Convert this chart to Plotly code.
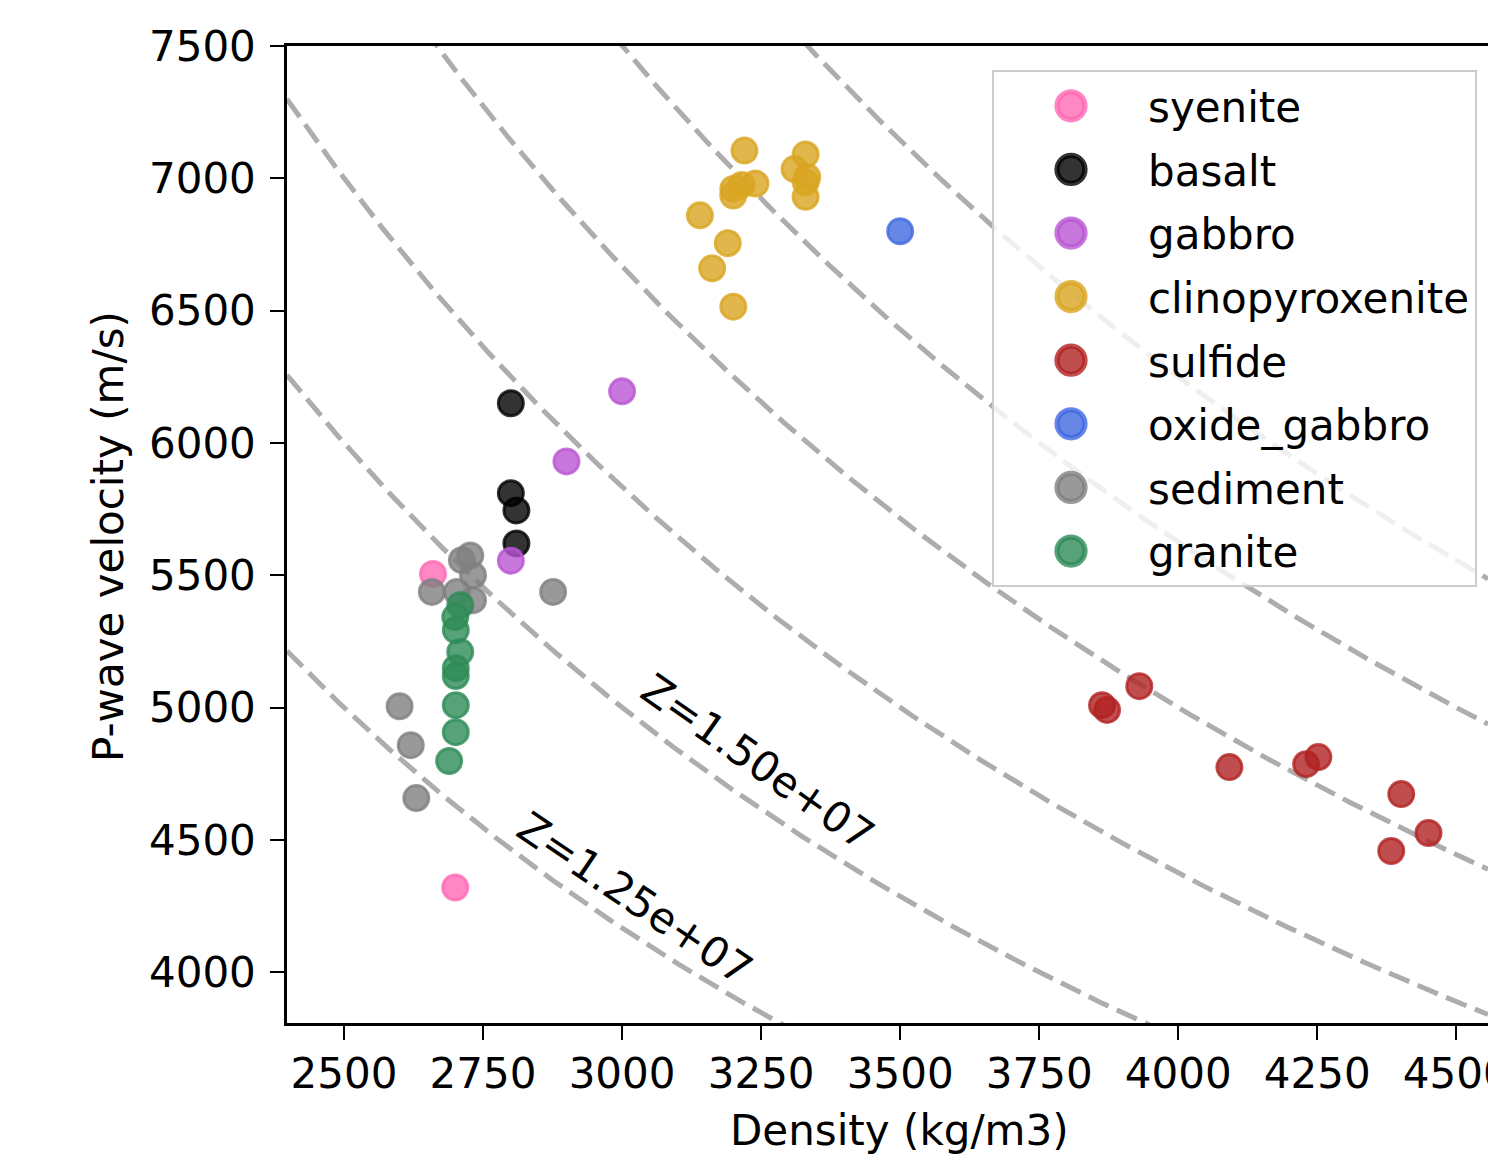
import numpy as np
import plotly.graph_objects as go

# ---------------- data ----------------
rock_types = ["syenite", "basalt", "gabbro", "clinopyroxenite", "sulfide",
              "oxide_gabbro", "sediment", "granite"]
rock_colors = ["#ff69b4", "#000000", "#ba55d3", "#daa520", "#b22222",
               "#4169e1", "#808080", "#2e8b57"]

syenite_density = [2660, 2700]
syenite_vp = [5505, 4320]
basalt_density = [2800, 2800, 2810, 2810]
basalt_vp = [6150, 5810, 5745, 5620]
gabbro_density = [3000, 2900, 2800]
gabbro_vp = [6195, 5930, 5555]
clinopyroxenite_density = [3220, 3330, 3310, 3333, 3330, 3330, 3240, 3215,
                           3200, 3200, 3140, 3190, 3162, 3200]
clinopyroxenite_vp = [7105, 7090, 7035, 7005, 6985, 6930, 6980, 6975,
                      6960, 6935, 6860, 6755, 6660, 6515]
sulfide_density = [3863, 3872, 3930, 4092, 4230, 4252, 4401, 4450, 4383]
sulfide_vp = [5009, 4991, 5081, 4775, 4786, 4813, 4673, 4526, 4458]
oxide_gabbro_density = [3500]
oxide_gabbro_vp = [6800]
sediment_density = [2600, 2620, 2630, 2658, 2703, 2732, 2732, 2727, 2712, 2876]
sediment_vp = [5005, 4858, 4658, 5437, 5437, 5406, 5500, 5575, 5557, 5437]
granite_density = [2709, 2700, 2701, 2709, 2701, 2701, 2701, 2701, 2689]
granite_vp = [5387, 5342, 5293, 5210, 5149, 5119, 5009, 4907, 4798]

densities = [syenite_density, basalt_density, gabbro_density,
             clinopyroxenite_density, sulfide_density, oxide_gabbro_density,
             sediment_density, granite_density]
velocities = [syenite_vp, basalt_vp, gabbro_vp, clinopyroxenite_vp,
              sulfide_vp, oxide_gabbro_vp, sediment_vp, granite_vp]

# acoustic impedance iso-lines Z = density * velocity
impedance_levels = [1.25e7, 1.50e7, 1.75e7, 2.00e7, 2.25e7, 2.50e7]
label_levels = [1.25e7, 1.50e7]
label_density = [3023, 3245]
label_vp = [4280, 4794]
label_angle = [34, 35]

x_ticks = [2500, 2750, 3000, 3250, 3500, 3750, 4000, 4250, 4500]
y_ticks = [4000, 4500, 5000, 5500, 6000, 6500, 7000, 7500]
x_range = [2397.5, 4557]
y_range = [3808, 7500]

# ---------------- layout helpers ----------------
W, H = 1488, 1163
ML, MR, MT, MB = 287, 0, 46, 140
PW, PH = W - ML - MR, H - MT - MB


def xp(px):
    return (px - ML) / PW


def yp(py):
    return (H - MB - py) / PH


FONT = "DejaVu Sans"


def rgba(hexc, a):
    h = hexc.lstrip("#")
    r, g, b = int(h[0:2], 16), int(h[2:4], 16), int(h[4:6], 16)
    return f"rgba({r},{g},{b},{a})"


fig = go.Figure()

rho = np.linspace(x_range[0], x_range[1], 600)
for z in impedance_levels:
    fig.add_trace(go.Scatter(
        x=rho, y=z / rho, mode="lines", showlegend=False, hoverinfo="skip",
        line=dict(color="#adadad", width=5, dash="22px,9px")))

for name, col, dx, vy in zip(rock_types, rock_colors, densities, velocities):
    fig.add_trace(go.Scatter(
        x=dx, y=vy, mode="markers", name=name, legendgroup=name,
        marker=dict(size=25, color=rgba(col, 0.8),
                    line=dict(color=rgba(col, 0.8), width=3))))

for z, lx, ly, ang in zip(label_levels, label_density, label_vp, label_angle):
    fig.add_annotation(x=lx, y=ly, xref="x", yref="y", text=f"Z={z:.2e}",
                       showarrow=False, textangle=ang,
                       xanchor="center", yanchor="middle",
                       font=dict(family=FONT, size=42, color="black"))

fig.add_annotation(x=xp(899), y=yp(1130), xref="paper", yref="paper",
                   text="Density (kg/m3)", showarrow=False,
                   xanchor="center", yanchor="middle",
                   font=dict(family=FONT, size=42, color="black"))
fig.add_annotation(x=xp(108), y=yp(537), xref="paper", yref="paper",
                   text="P-wave velocity (m/s)", showarrow=False, textangle=-90,
                   xanchor="center", yanchor="middle",
                   font=dict(family=FONT, size=42, color="black"))

axis_common = dict(showline=True, linecolor="black", linewidth=2.5,
                   ticks="outside", ticklen=14, tickwidth=2, tickcolor="black",
                   showgrid=False, zeroline=False, ticklabeloverflow="allow",
                   automargin=False,
                   tickfont=dict(family=FONT, size=42, color="black"))

fig.update_layout(
    width=W, height=H,
    margin=dict(l=ML, r=MR, t=MT, b=MB, pad=0, autoexpand=False),
    paper_bgcolor="white", plot_bgcolor="white",
    font=dict(family=FONT, size=42, color="black"),
    xaxis=dict(range=x_range, tickvals=x_ticks, mirror=True,
               ticklabelstandoff=-2, **axis_common),
    yaxis=dict(range=y_range, tickvals=y_ticks, mirror=False,
               ticklabelstandoff=6, **axis_common),
    legend=dict(x=xp(992), y=yp(70), xanchor="left", yanchor="top",
                bgcolor="rgba(255,255,255,0.8)", bordercolor="#cccccc",
                borderwidth=2, itemwidth=144, tracegroupgap=6,
                traceorder="grouped",
                font=dict(family=FONT, size=42, color="black")),
)

post = """
document.body.style.margin = '0';
document.body.style.overflow = 'hidden';
var gd = document.getElementById('{plot_id}');
gd.querySelectorAll('.legendpoints path.scatterpts').forEach(function(p){
  var t = p.getAttribute('transform') || '';
  p.setAttribute('transform', t + ' scale(1.75)');
});
"""

fig.write_html("out.html", post_script=post, config={"displayModeBar": False})
